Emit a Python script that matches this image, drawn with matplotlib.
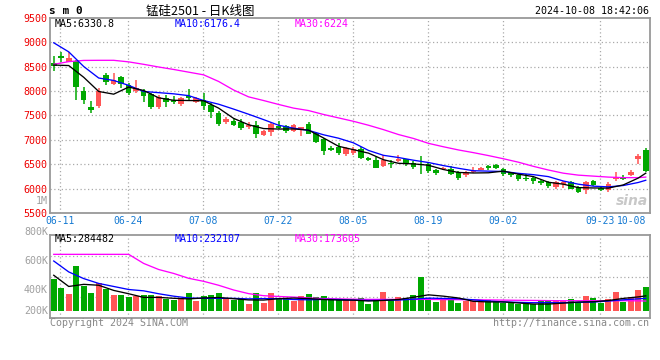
import matplotlib
matplotlib.use("Agg")
import matplotlib.pyplot as plt
import numpy as np

W, H = 660, 360

# daily candles, 2024-06-07 .. 2024-10-08 (80 trading days)
opens = [8566, 8710, 8600, 8620, 7990, 7670, 7690, 8330, 8140, 8295,
         8130, 8000, 7990, 7935, 7675, 7865, 7820, 7725, 7885, 7780,
         7810, 7710, 7540, 7360, 7390, 7370, 7260, 7300, 7100, 7155,
         7275, 7290, 7180, 7225, 7325, 7135, 7020, 6835, 6865, 6715,
         6730, 6815, 6630, 6595, 6460, 6525, 6570, 6600, 6535, 6515,
         6515, 6375, 6400, 6410, 6345, 6275, 6345, 6390, 6455, 6480,
         6400, 6345, 6290, 6225, 6225, 6155, 6140, 6030, 6090, 6130,
         6040, 5975, 6160, 6020, 5975, 6205, 6245, 6275, 6600, 6795]
highs = [8720, 8800, 8800, 8630, 8075, 7790, 8060, 8360, 8360, 8300,
         8170, 8220, 8040, 7960, 7920, 7910, 7900, 7885, 8050, 7880,
         7950, 7750, 7600, 7460, 7440, 7425, 7360, 7390, 7210, 7360,
         7380, 7305, 7325, 7270, 7360, 7155, 7030, 6885, 6930, 6865,
         6845, 6850, 6660, 6650, 6700, 6580, 6700, 6615, 6560, 6680,
         6535, 6410, 6445, 6465, 6355, 6370, 6445, 6450, 6495, 6510,
         6425, 6350, 6310, 6310, 6265, 6175, 6155, 6155, 6150, 6150,
         6060, 6155, 6175, 6040, 6130, 6345, 6280, 6380, 6715, 6830]
lows = [8410, 8600, 8600, 7820, 7735, 7555, 7655, 8130, 8130, 8070,
        7920, 7960, 7770, 7640, 7640, 7680, 7730, 7685, 7800, 7750,
        7610, 7450, 7290, 7325, 7290, 7210, 7220, 7045, 7070, 7075,
        7220, 7135, 7155, 7085, 7120, 6945, 6700, 6780, 6700, 6680,
        6700, 6615, 6570, 6420, 6450, 6430, 6545, 6460, 6415, 6310,
        6330, 6290, 6375, 6290, 6175, 6245, 6330, 6380, 6380, 6405,
        6265, 6245, 6155, 6155, 6105, 6075, 6025, 5995, 6020, 5990,
        5925, 5885, 6060, 5960, 5940, 6155, 6175, 6260, 6515, 6345]
closes = [8520, 8680, 8680, 8080, 7815, 7615, 8005, 8180, 8230, 8140,
          7965, 8060, 7900, 7665, 7880, 7780, 7780, 7850, 7860, 7850,
          7700, 7575, 7325, 7425, 7310, 7245, 7300, 7120, 7190, 7325,
          7245, 7180, 7300, 7255, 7120, 6965, 6780, 6785, 6730, 6835,
          6815, 6635, 6580, 6430, 6580, 6500, 6600, 6515, 6445, 6480,
          6355, 6330, 6430, 6310, 6230, 6345, 6370, 6430, 6435, 6425,
          6295, 6275, 6210, 6195, 6160, 6120, 6060, 6140, 6130, 6005,
          5940, 6130, 6075, 5975, 6095, 6215, 6210, 6345, 6680, 6360]
# volume, thousand lots
volumes = [517, 374, 275, 737, 413, 297, 456, 357, 259, 259,
           226, 236, 259, 259, 242, 193, 182, 187, 292, 160,
           242, 259, 292, 198, 176, 198, 110, 292, 127, 292,
           203, 198, 165, 242, 275, 220, 242, 187, 187, 187,
           187, 209, 110, 176, 308, 176, 220, 209, 253, 550,
           203, 143, 193, 187, 127, 160, 160, 143, 176, 154,
           132, 143, 116, 110, 116, 165, 154, 160, 160, 187,
           132, 242, 209, 132, 187, 308, 143, 226, 341, 390]

# moving averages, every second day plus the last one
ma_idx = list(range(0, 80, 2)) + [79]
ma5 = [8530, 8520, 8280, 7990, 7935, 8080, 8010, 7860, 7810, 7805,
       7800, 7650, 7440, 7310, 7232, 7222, 7225, 7200, 7040, 6870,
       6800, 6730, 6595, 6522, 6510, 6482, 6395, 6335, 6324, 6328,
       6362, 6300, 6250, 6135, 6095, 6025, 6018, 6015, 6080, 6220, 6320]
ma10 = [8985, 8800, 8500, 8265, 8215, 8115, 7990, 7966, 7942, 7905,
        7805, 7730, 7630, 7525, 7415, 7300, 7240, 7195, 7105, 7035,
        6940, 6785, 6685, 6640, 6585, 6538, 6475, 6420, 6370, 6362,
        6355, 6317, 6290, 6250, 6160, 6095, 6055, 6040, 6068, 6130, 6175]
ma30 = [8545, 8600, 8625, 8627, 8627, 8595, 8545, 8490, 8440, 8385,
        8330, 8195, 8020, 7880, 7805, 7725, 7650, 7600, 7520, 7450,
        7380, 7300, 7210, 7110, 7030, 6930, 6860, 6795, 6740, 6680,
        6615, 6545, 6460, 6385, 6320, 6280, 6260, 6240, 6229, 6229, 6240]
vma5 = [585, 400, 435, 420, 335, 280, 220, 220, 205, 195,
        210, 218, 198, 178, 176, 198, 209, 200, 185, 176,
        174, 160, 170, 185, 222, 262, 240, 210, 155, 145,
        145, 128, 110, 110, 125, 143, 148, 168, 203, 228, 245]
vma10 = [820, 640, 530, 450, 400, 350, 328, 280, 240, 210,
         204, 204, 204, 195, 200, 200, 185, 180, 187, 185,
         175, 170, 172, 176, 190, 208, 202, 198, 180, 160,
         146, 138, 132, 132, 132, 138, 143, 160, 180, 196, 204]
vma30 = [930, 930, 930, 930, 930, 930, 780, 680, 615, 535,
         485, 420, 342, 282, 248, 235, 225, 212, 200, 195,
         190, 187, 187, 187, 187, 187, 184, 182, 180, 178,
         175, 172, 170, 167, 165, 165, 165, 165, 165, 163, 160]

tick_idx = [1, 10, 20, 30, 40, 50, 60, 73, 79]
tick_lbl = ["06-11", "06-24", "07-08", "07-22", "08-05", "08-19", "09-02", "09-23", "10-08"]
price_ticks = [5500, 6000, 6500, 7000, 7500, 8000, 8500, 9000, 9500]

RED = "#ff5555"
GREEN = "#00a800"
GRID = "#aaaaaa"
MONO = "DejaVu Sans Mono"


def box(l, t, r, b):
    return [l / W, 1 - b / H, (r - l) / W, (b - t) / H]


def ftext(x, y, s, **kw):
    fig.text(x / W, 1 - y / H, s, va="center", **kw)


fig = plt.figure(figsize=(6.6, 3.6), dpi=100)
ax = fig.add_axes(box(50, 17.6, 649.5, 213.3))
axv = fig.add_axes(box(50, 234.7, 649.5, 318.3))

x = np.arange(len(closes))
o = np.array(opens)
c = np.array(closes)
cols = np.where(c >= o, RED, GREEN)

# grid
grid_pos = [i - 0.1 for i in tick_idx[:-1]]
for a in (ax, axv):
    for g in grid_pos:
        a.axvline(g, color=GRID, lw=0.9, ls=(0, (1, 2)), zorder=0)
    for s in a.spines.values():
        s.set_color("#999999")
        s.set_linewidth(1.3)
    a.set_xlim(-0.5, 79.5)
    a.tick_params(length=0)
for p in price_ticks[1:-1]:
    ax.axhline(p, color=GRID, lw=0.9, ls=(0, (1, 2)), zorder=0)
for f in (0.25, 0.5, 0.75):
    axv.plot([0, 1], [f, f], transform=axv.transAxes, color=GRID,
             lw=0.9, ls=(0, (1, 2)), zorder=0)

# candles
ax.vlines(x, lows, highs, colors=cols, lw=1.1, zorder=2)
body = np.maximum(np.abs(c - o), 28)
ax.bar(x, body, bottom=np.minimum(o, c), width=0.74, color=cols, zorder=3)
ax.plot(ma_idx, ma30, color="#ff00ff", lw=0.95, zorder=4)
ax.plot(ma_idx, ma10, color="#0000ff", lw=0.95, zorder=4)
ax.plot(ma_idx, ma5, color="black", lw=0.95, zorder=4)
ax.set_ylim(5500, 9500)
ax.set_yticks(price_ticks)
ax.set_yticklabels([str(p) for p in price_ticks], color="#ee0000",
                   fontsize=7.2, family=MONO)
ax.tick_params(axis="y", pad=2)
ax.set_xticks(grid_pos + [tick_idx[-1]])
ax.set_xticklabels(tick_lbl, color="#1479d2", fontsize=7, family=MONO)
ax.get_xticklabels()[-1].set_horizontalalignment("right")
ax.tick_params(axis="x", pad=2)

# volume
axv.bar(x, volumes, width=0.8, color=cols, zorder=2)
axv.plot(ma_idx, vma30, color="#ff00ff", lw=0.95, zorder=4)
axv.plot(ma_idx, vma10, color="#0000ff", lw=0.95, zorder=4)
axv.plot(ma_idx, vma5, color="black", lw=0.95, zorder=4)
axv.set_ylim(-125, 1254)
axv.set_yticks([])
axv.set_xticks([])

# legends
ftext(55, 24, "MA5:6330.8", color="black", fontsize=7.2, family=MONO)
ftext(174.5, 24, "MA10:6176.4", color="#0000ff", fontsize=7.2, family=MONO)
ftext(295, 24, "MA30:6224", color="#ff00ff", fontsize=7.2, family=MONO)
ftext(55, 238.5, "MA5:284482", color="black", fontsize=7.2, family=MONO)
ftext(174.5, 238.5, "MA10:232107", color="#0000ff", fontsize=7.2, family=MONO)
ftext(295, 238.5, "MA30:173605", color="#ff00ff", fontsize=7.2, family=MONO)

# volume axis labels
for lbl, yy in [("1M", 201), ("800K", 232), ("600K", 261), ("400K", 290), ("200K", 311)]:
    ftext(48, yy, lbl, color="#a0a0a0", fontsize=7.2, family=MONO, ha="right")

# header and footer
ftext(49, 11, "s m 0", color="black", fontsize=8, family=MONO, weight="bold")
ftext(200, 11, "锰硅2501 - 日K线图", color="black", fontsize=9,
      family=["Noto Sans CJK SC", "DejaVu Sans"], ha="center")
ftext(649, 11, "2024-10-08 18:42:06", color="black", fontsize=7.2, family=MONO, ha="right")
ftext(50, 323, "Copyright 2024 SINA.COM", color="#888888", fontsize=7.2, family=MONO)
ftext(649, 323, "http://finance.sina.com.cn", color="#888888", fontsize=7.2,
      family=MONO, ha="right")
ftext(648, 201, "sina", color="#c8c8c8", fontsize=10, weight="bold",
      style="italic", ha="right")

fig.savefig("out.png", dpi=100, facecolor="white")
